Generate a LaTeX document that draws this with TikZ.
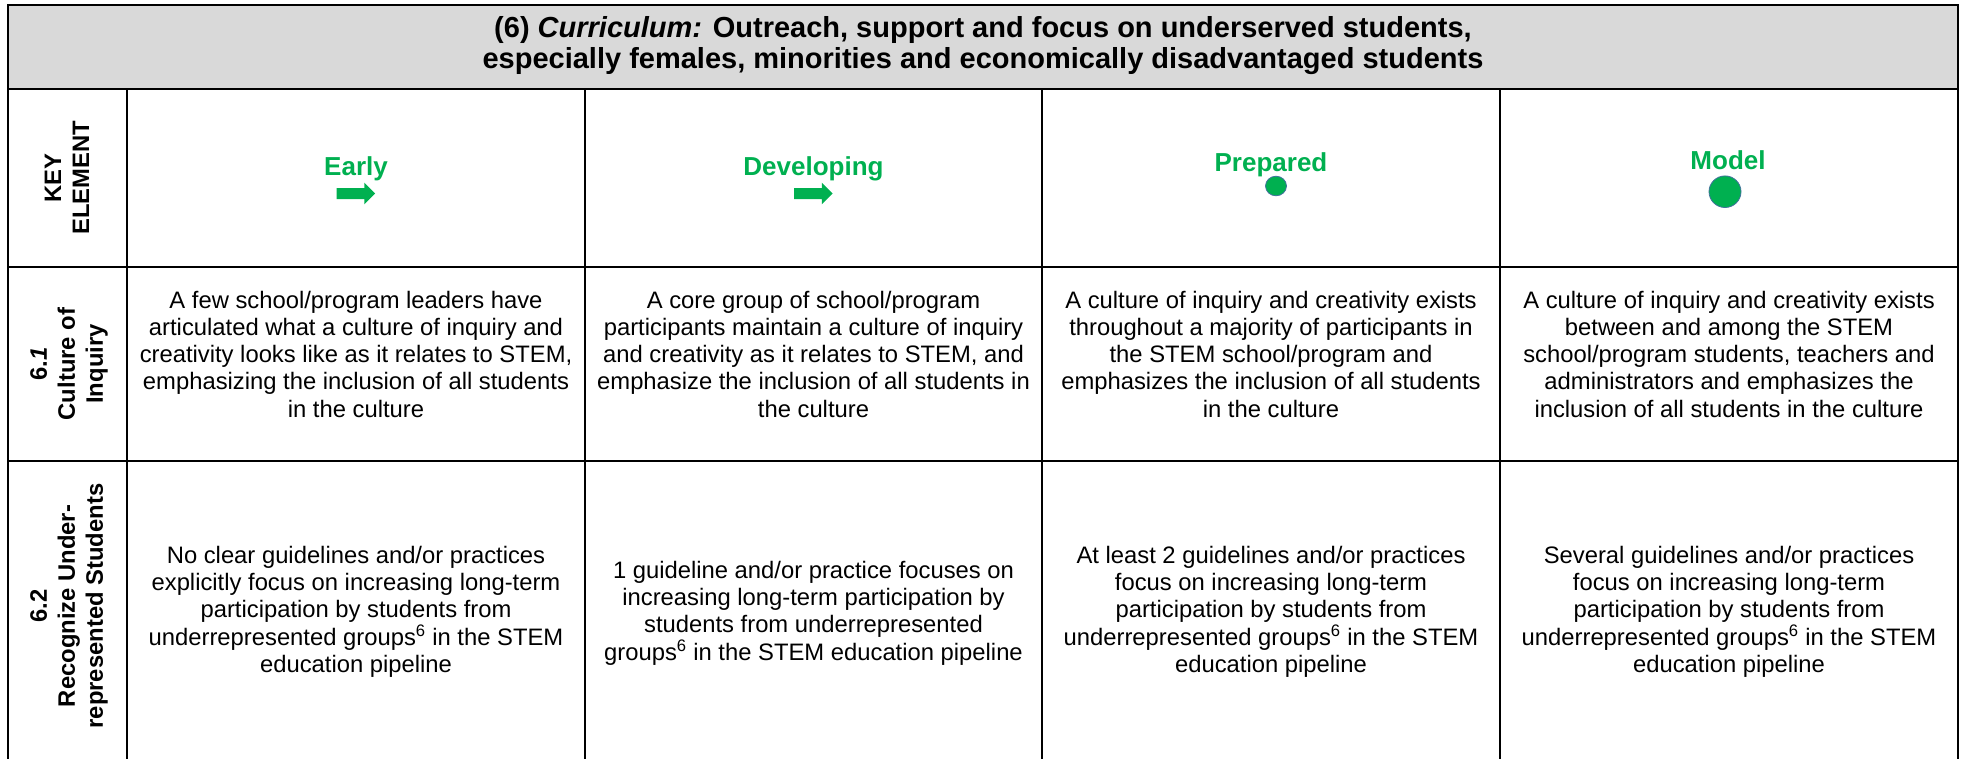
\documentclass[tikz,border=0pt]{standalone}
\usepackage{fontspec}
\setmainfont{Liberation Sans}
\definecolor{hdrgray}{HTML}{D9D9D9}
\definecolor{lvlgreen}{HTML}{00B050}
\definecolor{dotedge}{HTML}{41719C}
\tikzset{
  gridline/.style={line width=2.2pt, black},
  outerline/.style={line width=2.8pt, black, line cap=rect},
  body/.style={font=\fontsize{23.8}{27.3}\selectfont, align=center, anchor=base, inner sep=0pt},
  side/.style={font=\bfseries\fontsize{23.8}{28}\selectfont, align=center, rotate=90, inner sep=0pt, anchor=center},
  lvl/.style={font=\bfseries\fontsize{26}{30}\selectfont, text=lvlgreen, anchor=base, inner sep=0pt},
  titletext/.style={font=\bfseries\fontsize{29}{31}\selectfont, align=center, anchor=base, inner sep=0pt},
  arrowicon/.style={fill=lvlgreen},
  doticon/.style={fill=lvlgreen, draw=dotedge, line width=0.8pt}
}
\begin{document}
\begin{tikzpicture}[x=1pt, y=-1pt]
\useasboundingbox (0,0) rectangle (1965,758);
% header band
\fill[hdrgray] (8,5) rectangle (1958,89);
% grid
\draw[gridline] (8,89) -- (1958,89);
\draw[gridline] (8,267) -- (1958,267);
\draw[gridline] (8,461) -- (1958,461);
\foreach \xx in {127,585,1042,1500} {\draw[gridline] (\xx,89) -- (\xx,760);}
\draw[outerline] (8,760) -- (8,5) -- (1958,5) -- (1958,760);

% title (anchor = baseline of last line)
\node[titletext] (title) at (983,68) {(6) \textit{Curriculum:} Outreach, support and focus on underserved students,\\especially females, minorities and economically disadvantaged students};

% side headers
\node[side] (keyel) at (67,178) {KEY\\ELEMENT};
\node[side] (r61) at (69,364) {6.\textit{1}\\Culture of\\Inquiry};
\node[side] (r62) at (69,606) {6.2\\Recognize Under-\\represented Students};

% level labels
\node[lvl] (early) at (356,175) {Early};
\node[lvl] (developing) at (813.5,175) {Developing};
\node[lvl] (prepared) at (1271,171.7) {Prepared};
\node[lvl] (model) at (1728,169) {Model};

% icons
\fill[arrowicon, shift={(356,193.5)}] (-19.3,-5.5) -- (8.3,-5.5) -- (8.3,-10.8) -- (19,0) -- (8.3,10.8) -- (8.3,5.5) -- (-19.3,5.5) -- cycle;
\fill[arrowicon, shift={(813.5,193.5)}] (-19.3,-5.5) -- (8.3,-5.5) -- (8.3,-10.8) -- (19,0) -- (8.3,10.8) -- (8.3,5.5) -- (-19.3,5.5) -- cycle;
\draw[doticon] (1276,186) ellipse [x radius=10.5, y radius=9.8];
\draw[doticon] (1725,191.7) ellipse [x radius=16, y radius=15.8];

% row 6.1 (anchor = baseline of last line)
\node[body] (c11) at (356,417.2) {A few school/program leaders have\\articulated what a culture of inquiry and\\creativity looks like as it relates to STEM,\\emphasizing the inclusion of all students\\in the culture};
\node[body] (c12) at (813.5,417.2) {A core group of school/program\\participants maintain a culture of inquiry\\and creativity as it relates to STEM, and\\emphasize the inclusion of all students in\\the culture};
\node[body] (c13) at (1271,417.2) {A culture of inquiry and creativity exists\\throughout a majority of participants in\\the STEM school/program and\\emphasizes the inclusion of all students\\in the culture};
\node[body] (c14) at (1729,417.2) {A culture of inquiry and creativity exists\\between and among the STEM\\school/program students, teachers and\\administrators and emphasizes the\\inclusion of all students in the culture};

% row 6.2
\node[body] (c21) at (356,672.5) {No clear guidelines and/or practices\\explicitly focus on increasing long-term\\participation by students from\\underrepresented groups\textsuperscript{6} in the STEM\\education pipeline};
\node[body] (c22) at (813.5,660.2) {1 guideline and/or practice focuses on\\increasing long-term participation by\\students from underrepresented\\groups\textsuperscript{6} in the STEM education pipeline};
\node[body] (c23) at (1271,672.5) {At least 2 guidelines and/or practices\\focus on increasing long-term\\participation by students from\\underrepresented groups\textsuperscript{6} in the STEM\\education pipeline};
\node[body] (c24) at (1729,672.5) {Several guidelines and/or practices\\focus on increasing long-term\\participation by students from\\underrepresented groups\textsuperscript{6} in the STEM\\education pipeline};
\end{tikzpicture}
\end{document}
